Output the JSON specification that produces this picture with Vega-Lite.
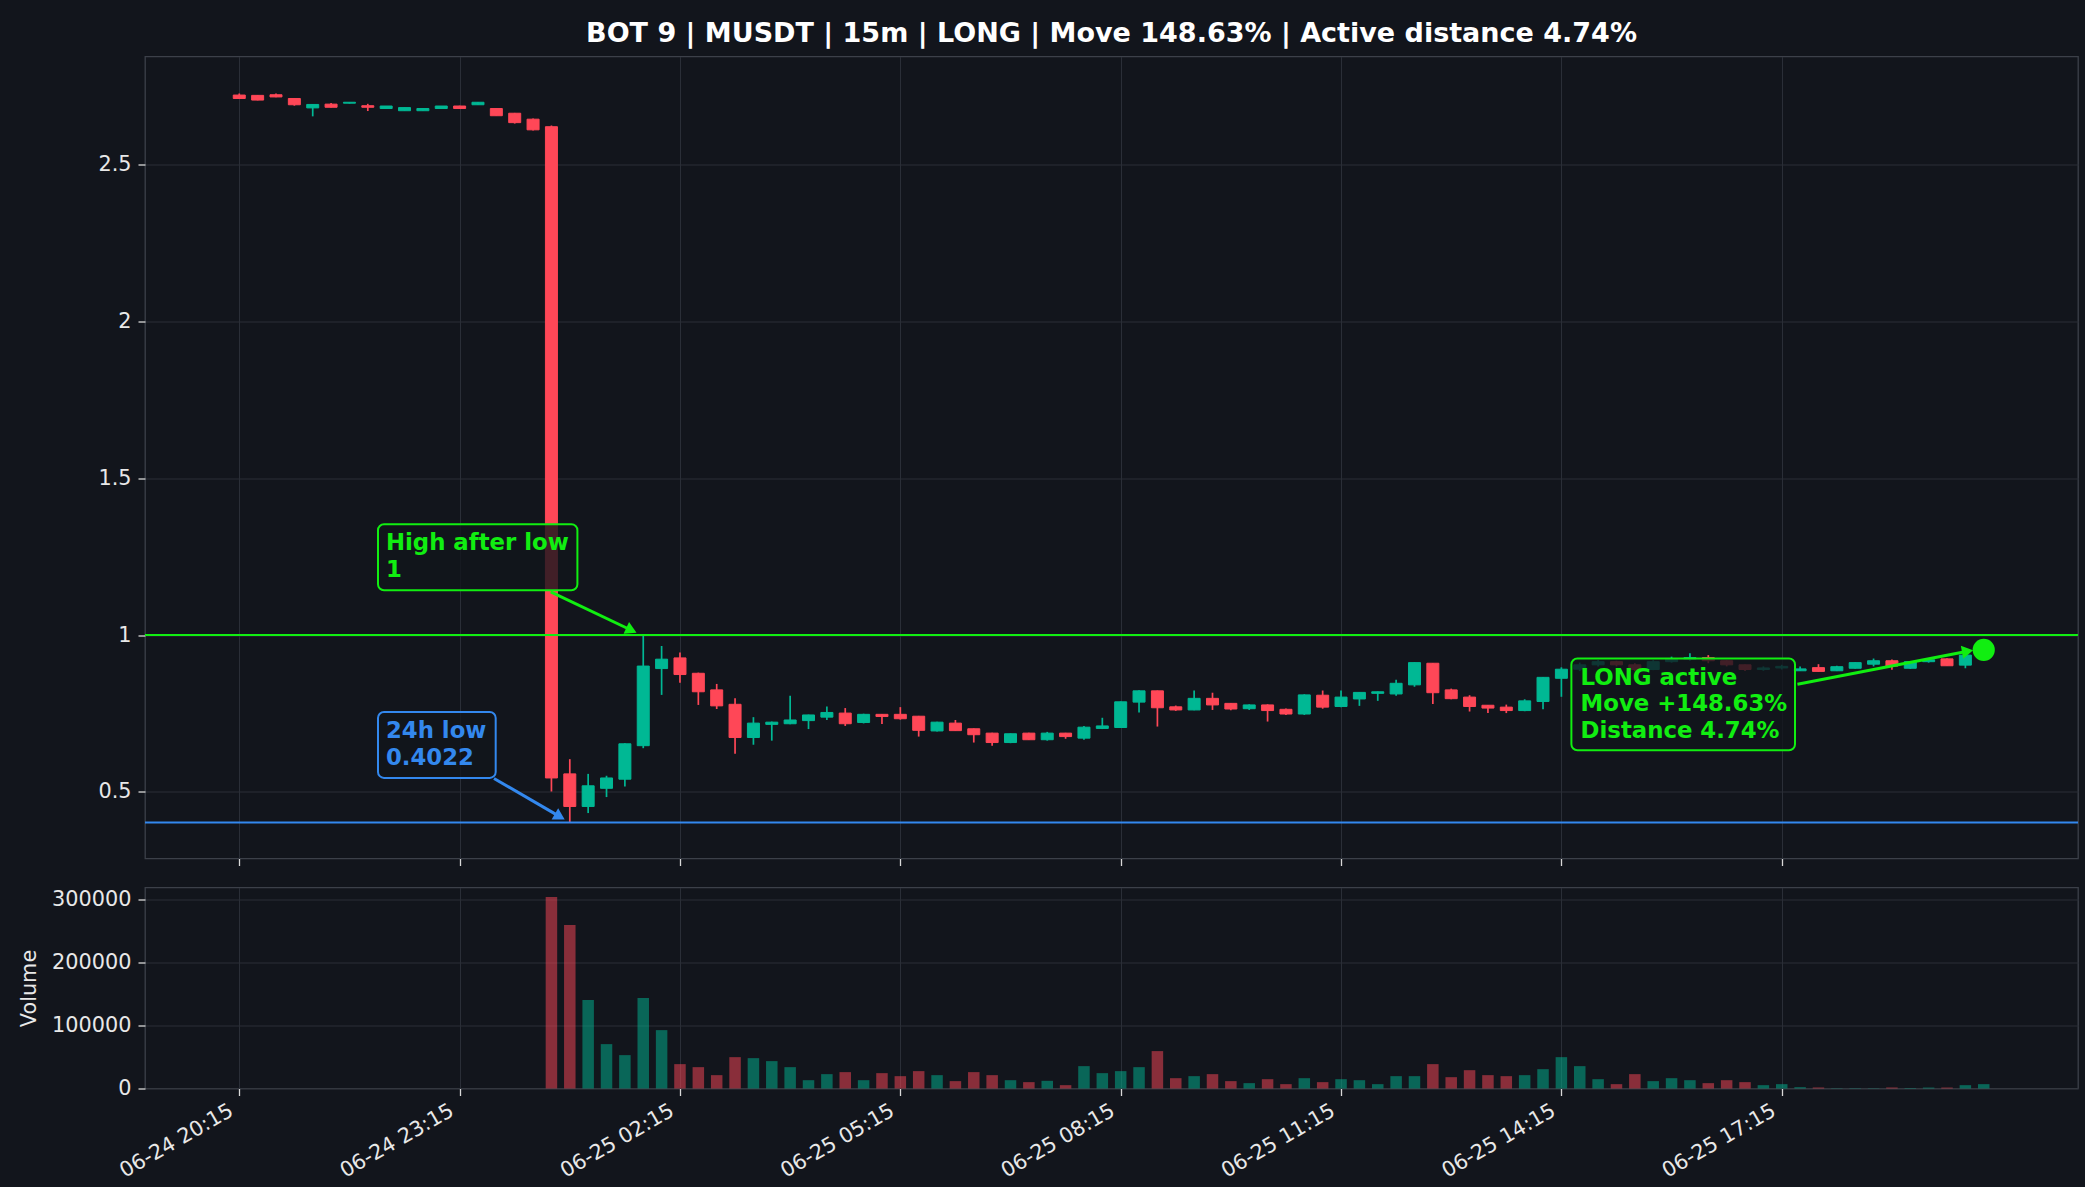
{
  "$schema": "https://vega.github.io/schema/vega-lite/v6.json",
  "background": "#12151c",
  "padding": {"left": 17, "top": 19.5, "right": 5, "bottom": 5},
  "spacing": 19,
  "datasets": {
    "candles": [
      {"t":"2025-06-24T20:15","o":2.723,"h":2.728,"l":2.711,"c":2.712,"v":0},
      {"t":"2025-06-24T20:30","o":2.722,"h":2.723,"l":2.706,"c":2.707,"v":0},
      {"t":"2025-06-24T20:45","o":2.724,"h":2.728,"l":2.716,"c":2.717,"v":0},
      {"t":"2025-06-24T21:00","o":2.712,"h":2.713,"l":2.689,"c":2.692,"v":0},
      {"t":"2025-06-24T21:15","o":2.682,"h":2.693,"l":2.655,"c":2.693,"v":0},
      {"t":"2025-06-24T21:30","o":2.694,"h":2.698,"l":2.683,"c":2.684,"v":0},
      {"t":"2025-06-24T21:45","o":2.697,"h":2.700,"l":2.696,"c":2.700,"v":0},
      {"t":"2025-06-24T22:00","o":2.689,"h":2.695,"l":2.672,"c":2.684,"v":0},
      {"t":"2025-06-24T22:15","o":2.680,"h":2.688,"l":2.680,"c":2.688,"v":0},
      {"t":"2025-06-24T22:30","o":2.673,"h":2.683,"l":2.673,"c":2.683,"v":0},
      {"t":"2025-06-24T22:45","o":2.673,"h":2.680,"l":2.673,"c":2.680,"v":0},
      {"t":"2025-06-24T23:00","o":2.680,"h":2.688,"l":2.680,"c":2.688,"v":0},
      {"t":"2025-06-24T23:15","o":2.688,"h":2.689,"l":2.680,"c":2.680,"v":0},
      {"t":"2025-06-24T23:30","o":2.692,"h":2.701,"l":2.692,"c":2.700,"v":0},
      {"t":"2025-06-24T23:45","o":2.680,"h":2.681,"l":2.657,"c":2.657,"v":0},
      {"t":"2025-06-25T00:00","o":2.665,"h":2.666,"l":2.632,"c":2.635,"v":0},
      {"t":"2025-06-25T00:15","o":2.646,"h":2.648,"l":2.610,"c":2.612,"v":0},
      {"t":"2025-06-25T00:30","o":2.622,"h":2.626,"l":0.501,"c":0.544,"v":304000},
      {"t":"2025-06-25T00:45","o":0.557,"h":0.604,"l":0.4022,"c":0.453,"v":259700},
      {"t":"2025-06-25T01:00","o":0.453,"h":0.557,"l":0.432,"c":0.519,"v":140400},
      {"t":"2025-06-25T01:15","o":0.511,"h":0.551,"l":0.483,"c":0.544,"v":70500},
      {"t":"2025-06-25T01:30","o":0.540,"h":0.655,"l":0.517,"c":0.653,"v":53000},
      {"t":"2025-06-25T01:45","o":0.647,"h":1.000,"l":0.639,"c":0.901,"v":143600},
      {"t":"2025-06-25T02:00","o":0.893,"h":0.965,"l":0.809,"c":0.923,"v":92700},
      {"t":"2025-06-25T02:15","o":0.927,"h":0.944,"l":0.848,"c":0.874,"v":38700},
      {"t":"2025-06-25T02:30","o":0.878,"h":0.880,"l":0.777,"c":0.819,"v":33900},
      {"t":"2025-06-25T02:45","o":0.825,"h":0.844,"l":0.764,"c":0.774,"v":21200},
      {"t":"2025-06-25T03:00","o":0.779,"h":0.798,"l":0.621,"c":0.673,"v":49800},
      {"t":"2025-06-25T03:15","o":0.673,"h":0.738,"l":0.650,"c":0.719,"v":48200},
      {"t":"2025-06-25T03:30","o":0.715,"h":0.724,"l":0.663,"c":0.722,"v":43500},
      {"t":"2025-06-25T03:45","o":0.717,"h":0.806,"l":0.715,"c":0.729,"v":33900},
      {"t":"2025-06-25T04:00","o":0.727,"h":0.746,"l":0.700,"c":0.745,"v":13200},
      {"t":"2025-06-25T04:15","o":0.738,"h":0.772,"l":0.729,"c":0.753,"v":22800},
      {"t":"2025-06-25T04:30","o":0.751,"h":0.767,"l":0.710,"c":0.717,"v":26000},
      {"t":"2025-06-25T04:45","o":0.721,"h":0.749,"l":0.718,"c":0.747,"v":13200},
      {"t":"2025-06-25T05:00","o":0.747,"h":0.748,"l":0.716,"c":0.740,"v":24400},
      {"t":"2025-06-25T05:15","o":0.747,"h":0.770,"l":0.730,"c":0.733,"v":19600},
      {"t":"2025-06-25T05:30","o":0.741,"h":0.742,"l":0.676,"c":0.696,"v":27600},
      {"t":"2025-06-25T05:45","o":0.694,"h":0.723,"l":0.692,"c":0.722,"v":21200},
      {"t":"2025-06-25T06:00","o":0.719,"h":0.729,"l":0.694,"c":0.695,"v":11700},
      {"t":"2025-06-25T06:15","o":0.701,"h":0.702,"l":0.657,"c":0.682,"v":26000},
      {"t":"2025-06-25T06:30","o":0.687,"h":0.688,"l":0.647,"c":0.657,"v":21200},
      {"t":"2025-06-25T06:45","o":0.657,"h":0.686,"l":0.655,"c":0.685,"v":13200},
      {"t":"2025-06-25T07:00","o":0.687,"h":0.688,"l":0.665,"c":0.666,"v":10100},
      {"t":"2025-06-25T07:15","o":0.666,"h":0.691,"l":0.663,"c":0.687,"v":12200},
      {"t":"2025-06-25T07:30","o":0.687,"h":0.688,"l":0.669,"c":0.676,"v":5300},
      {"t":"2025-06-25T07:45","o":0.671,"h":0.710,"l":0.666,"c":0.706,"v":35500},
      {"t":"2025-06-25T08:00","o":0.702,"h":0.736,"l":0.700,"c":0.710,"v":24400},
      {"t":"2025-06-25T08:15","o":0.705,"h":0.788,"l":0.704,"c":0.787,"v":27600},
      {"t":"2025-06-25T08:30","o":0.786,"h":0.824,"l":0.753,"c":0.822,"v":33900},
      {"t":"2025-06-25T08:45","o":0.822,"h":0.823,"l":0.708,"c":0.768,"v":59400},
      {"t":"2025-06-25T09:00","o":0.771,"h":0.775,"l":0.758,"c":0.761,"v":16400},
      {"t":"2025-06-25T09:15","o":0.761,"h":0.823,"l":0.760,"c":0.798,"v":19600},
      {"t":"2025-06-25T09:30","o":0.798,"h":0.816,"l":0.761,"c":0.777,"v":22800},
      {"t":"2025-06-25T09:45","o":0.782,"h":0.783,"l":0.760,"c":0.764,"v":11700},
      {"t":"2025-06-25T10:00","o":0.765,"h":0.779,"l":0.761,"c":0.777,"v":8500},
      {"t":"2025-06-25T10:15","o":0.777,"h":0.779,"l":0.724,"c":0.759,"v":14800},
      {"t":"2025-06-25T10:30","o":0.763,"h":0.766,"l":0.745,"c":0.748,"v":6900},
      {"t":"2025-06-25T10:45","o":0.748,"h":0.811,"l":0.745,"c":0.809,"v":16400},
      {"t":"2025-06-25T11:00","o":0.808,"h":0.823,"l":0.765,"c":0.770,"v":10100},
      {"t":"2025-06-25T11:15","o":0.772,"h":0.823,"l":0.770,"c":0.802,"v":14800},
      {"t":"2025-06-25T11:30","o":0.796,"h":0.818,"l":0.774,"c":0.817,"v":13200},
      {"t":"2025-06-25T11:45","o":0.814,"h":0.820,"l":0.790,"c":0.819,"v":6900},
      {"t":"2025-06-25T12:00","o":0.812,"h":0.857,"l":0.806,"c":0.846,"v":19600},
      {"t":"2025-06-25T12:15","o":0.841,"h":0.913,"l":0.835,"c":0.912,"v":19600},
      {"t":"2025-06-25T12:30","o":0.910,"h":0.911,"l":0.780,"c":0.816,"v":38700},
      {"t":"2025-06-25T12:45","o":0.825,"h":0.829,"l":0.795,"c":0.797,"v":18000},
      {"t":"2025-06-25T13:00","o":0.802,"h":0.808,"l":0.756,"c":0.772,"v":29100},
      {"t":"2025-06-25T13:15","o":0.776,"h":0.777,"l":0.751,"c":0.767,"v":21200},
      {"t":"2025-06-25T13:30","o":0.770,"h":0.778,"l":0.751,"c":0.759,"v":19600},
      {"t":"2025-06-25T13:45","o":0.759,"h":0.795,"l":0.757,"c":0.790,"v":21200},
      {"t":"2025-06-25T14:00","o":0.788,"h":0.866,"l":0.763,"c":0.865,"v":30700},
      {"t":"2025-06-25T14:15","o":0.862,"h":0.897,"l":0.803,"c":0.891,"v":49800},
      {"t":"2025-06-25T14:30","o":0.891,"h":0.912,"l":0.885,"c":0.905,"v":35500},
      {"t":"2025-06-25T14:45","o":0.905,"h":0.920,"l":0.900,"c":0.915,"v":14800},
      {"t":"2025-06-25T15:00","o":0.915,"h":0.918,"l":0.900,"c":0.905,"v":6900},
      {"t":"2025-06-25T15:15","o":0.905,"h":0.910,"l":0.885,"c":0.890,"v":22800},
      {"t":"2025-06-25T15:30","o":0.890,"h":0.920,"l":0.888,"c":0.915,"v":11700},
      {"t":"2025-06-25T15:45","o":0.915,"h":0.931,"l":0.912,"c":0.925,"v":16400},
      {"t":"2025-06-25T16:00","o":0.922,"h":0.942,"l":0.918,"c":0.928,"v":13200},
      {"t":"2025-06-25T16:15","o":0.928,"h":0.936,"l":0.910,"c":0.918,"v":8500},
      {"t":"2025-06-25T16:30","o":0.918,"h":0.920,"l":0.900,"c":0.905,"v":13200},
      {"t":"2025-06-25T16:45","o":0.905,"h":0.906,"l":0.885,"c":0.890,"v":10100},
      {"t":"2025-06-25T17:00","o":0.890,"h":0.900,"l":0.886,"c":0.895,"v":5300},
      {"t":"2025-06-25T17:15","o":0.895,"h":0.905,"l":0.890,"c":0.900,"v":6900},
      {"t":"2025-06-25T17:30","o":0.886,"h":0.900,"l":0.885,"c":0.892,"v":2100},
      {"t":"2025-06-25T17:45","o":0.896,"h":0.907,"l":0.883,"c":0.884,"v":1600},
      {"t":"2025-06-25T18:00","o":0.886,"h":0.902,"l":0.885,"c":0.899,"v":500},
      {"t":"2025-06-25T18:15","o":0.894,"h":0.913,"l":0.893,"c":0.912,"v":600},
      {"t":"2025-06-25T18:30","o":0.907,"h":0.925,"l":0.900,"c":0.918,"v":500},
      {"t":"2025-06-25T18:45","o":0.918,"h":0.922,"l":0.889,"c":0.901,"v":1600},
      {"t":"2025-06-25T19:00","o":0.894,"h":0.916,"l":0.892,"c":0.915,"v":800},
      {"t":"2025-06-25T19:15","o":0.915,"h":0.922,"l":0.912,"c":0.921,"v":1500},
      {"t":"2025-06-25T19:30","o":0.924,"h":0.926,"l":0.902,"c":0.902,"v":1500},
      {"t":"2025-06-25T19:45","o":0.904,"h":0.937,"l":0.894,"c":0.936,"v":5300},
      {"t":"2025-06-25T20:00","o":0.936,"h":0.955,"l":0.930,"c":0.9526,"v":6900}
    ],
    "boxes": [
      {"t1":"2025-06-24T22:08:20","t2":"2025-06-25T00:51:13","p1":1.143,"p2":1.3534,"kind":"green"},
      {"t1":"2025-06-24T22:08:20","t2":"2025-06-24T23:44:28","p1":0.5442,"p2":0.7547,"kind":"blue"},
      {"t1":"2025-06-25T14:23:10","t2":"2025-06-25T17:25:50","p1":0.6325,"p2":0.925,"kind":"green"}
    ],
    "labels": [
      {"t":"2025-06-24T22:14:50","p":1.2705,"label":"High after low","kind":"green"},
      {"t":"2025-06-24T22:14:50","p":1.1853,"label":"1","kind":"green"},
      {"t":"2025-06-24T22:14:50","p":0.6699,"label":"24h low","kind":"blue"},
      {"t":"2025-06-24T22:14:50","p":0.5847,"label":"0.4022","kind":"blue"},
      {"t":"2025-06-25T14:30:40","p":0.840,"label":"LONG active","kind":"green"},
      {"t":"2025-06-25T14:30:40","p":0.757,"label":"Move +148.63%","kind":"green"},
      {"t":"2025-06-25T14:30:40","p":0.673,"label":"Distance 4.74%","kind":"green"}
    ],
    "arrows": [
      {"t1":"2025-06-25T00:29:24","p1":1.1375,"t2":"2025-06-25T01:35:20","p2":1.0153,"kind":"green"},
      {"t1":"2025-06-24T23:43:06","p1":0.5423,"t2":"2025-06-25T00:36:50","p2":0.4207,"kind":"blue"},
      {"t1":"2025-06-25T17:27:50","p1":0.8431,"t2":"2025-06-25T19:46:48","p2":0.9483,"kind":"green"}
    ]
  },
  "vconcat": [
    {
      "width": 1933,
      "height": 802,
      "title": {"text": "BOT 9 | MUSDT | 15m | LONG | Move 148.63% | Active distance 4.74%", "fontSize": 27, "fontWeight": "bold", "font": "DejaVu Sans", "color": "#ffffff", "anchor": "middle", "frame": "group", "baseline": "alphabetic", "offset": -12.7},
      "layer": [
        {
          "data": {"name": "candles"},
          "mark": {"type": "rule", "strokeWidth": 1.7},
          "encoding": {
            "x": {"field": "t", "type": "temporal",
              "scale": {"domain": [{"year":2025,"month":6,"date":24,"hours":18,"minutes":58},{"year":2025,"month":6,"date":25,"hours":21,"minutes":17}], "padding": 0},
              "axis": {"values": [{"year":2025,"month":6,"date":24,"hours":20,"minutes":15},{"year":2025,"month":6,"date":24,"hours":23,"minutes":15},{"year":2025,"month":6,"date":25,"hours":2,"minutes":15},{"year":2025,"month":6,"date":25,"hours":5,"minutes":15},{"year":2025,"month":6,"date":25,"hours":8,"minutes":15},{"year":2025,"month":6,"date":25,"hours":11,"minutes":15},{"year":2025,"month":6,"date":25,"hours":14,"minutes":15},{"year":2025,"month":6,"date":25,"hours":17,"minutes":15}], "labels": false, "title": null}},
            "y": {"field": "l", "type": "quantitative", "scale": {"domain": [0.287, 2.846], "nice": false, "zero": false, "padding": 0},
              "axis": {"values": [0.5, 1, 1.5, 2, 2.5], "format": "~g", "title": null}},
            "y2": {"field": "h"},
            "color": {"condition": {"test": "datum.c >= datum.o", "value": "#00b894"}, "value": "#ff4757"}
          }
        },
        {
          "data": {"name": "candles"},
          "mark": {"type": "bar", "size": 12, "strokeWidth": 1},
          "encoding": {
            "x": {"field": "t", "type": "temporal",
              "scale": {"domain": [{"year":2025,"month":6,"date":24,"hours":18,"minutes":58},{"year":2025,"month":6,"date":25,"hours":21,"minutes":17}], "padding": 0},
              "axis": {"values": [{"year":2025,"month":6,"date":24,"hours":20,"minutes":15},{"year":2025,"month":6,"date":24,"hours":23,"minutes":15},{"year":2025,"month":6,"date":25,"hours":2,"minutes":15},{"year":2025,"month":6,"date":25,"hours":5,"minutes":15},{"year":2025,"month":6,"date":25,"hours":8,"minutes":15},{"year":2025,"month":6,"date":25,"hours":11,"minutes":15},{"year":2025,"month":6,"date":25,"hours":14,"minutes":15},{"year":2025,"month":6,"date":25,"hours":17,"minutes":15}], "labels": false, "title": null}},
            "y": {"field": "o", "type": "quantitative", "scale": {"domain": [0.287, 2.846], "nice": false, "zero": false, "padding": 0},
              "axis": {"values": [0.5, 1, 1.5, 2, 2.5], "format": "~g", "title": null}},
            "y2": {"field": "c"},
            "color": {"condition": {"test": "datum.c >= datum.o", "value": "#00b894"}, "value": "#ff4757"},
            "stroke": {"condition": {"test": "datum.c >= datum.o", "value": "#00b894"}, "value": "#ff4757"}
          }
        },
        {
          "data": {"values": [{"p": 1.0, "kind": "green"}, {"p": 0.4022, "kind": "blue"}]},
          "mark": {"type": "rule", "strokeWidth": 2},
          "encoding": {
            "y": {"field": "p", "type": "quantitative", "scale": {"domain": [0.287, 2.846], "nice": false, "zero": false, "padding": 0},
              "axis": {"values": [0.5, 1, 1.5, 2, 2.5], "format": "~g", "title": null}},
            "color": {"field": "kind", "type": "nominal", "scale": {"domain": ["green", "blue"], "range": ["#11ee11", "#3388ee"]}, "legend": null}
          }
        },
        {
          "data": {"name": "boxes"},
          "mark": {"type": "rect", "fill": "#12151c", "fillOpacity": 0.8, "strokeWidth": 2, "cornerRadius": 6},
          "encoding": {
            "x": {"field": "t1", "type": "temporal",
              "scale": {"domain": [{"year":2025,"month":6,"date":24,"hours":18,"minutes":58},{"year":2025,"month":6,"date":25,"hours":21,"minutes":17}], "padding": 0},
              "axis": {"values": [{"year":2025,"month":6,"date":24,"hours":20,"minutes":15},{"year":2025,"month":6,"date":24,"hours":23,"minutes":15},{"year":2025,"month":6,"date":25,"hours":2,"minutes":15},{"year":2025,"month":6,"date":25,"hours":5,"minutes":15},{"year":2025,"month":6,"date":25,"hours":8,"minutes":15},{"year":2025,"month":6,"date":25,"hours":11,"minutes":15},{"year":2025,"month":6,"date":25,"hours":14,"minutes":15},{"year":2025,"month":6,"date":25,"hours":17,"minutes":15}], "labels": false, "title": null}},
            "x2": {"field": "t2"},
            "y": {"field": "p1", "type": "quantitative", "scale": {"domain": [0.287, 2.846], "nice": false, "zero": false, "padding": 0},
              "axis": {"values": [0.5, 1, 1.5, 2, 2.5], "format": "~g", "title": null}},
            "y2": {"field": "p2"},
            "stroke": {"field": "kind", "type": "nominal", "scale": {"domain": ["green", "blue"], "range": ["#11ee11", "#3388ee"]}, "legend": null}
          }
        },
        {
          "data": {"name": "labels"},
          "mark": {"type": "text", "align": "left", "baseline": "alphabetic", "fontSize": 22.8, "fontWeight": "bold", "font": "DejaVu Sans"},
          "encoding": {
            "x": {"field": "t", "type": "temporal",
              "scale": {"domain": [{"year":2025,"month":6,"date":24,"hours":18,"minutes":58},{"year":2025,"month":6,"date":25,"hours":21,"minutes":17}], "padding": 0},
              "axis": {"values": [{"year":2025,"month":6,"date":24,"hours":20,"minutes":15},{"year":2025,"month":6,"date":24,"hours":23,"minutes":15},{"year":2025,"month":6,"date":25,"hours":2,"minutes":15},{"year":2025,"month":6,"date":25,"hours":5,"minutes":15},{"year":2025,"month":6,"date":25,"hours":8,"minutes":15},{"year":2025,"month":6,"date":25,"hours":11,"minutes":15},{"year":2025,"month":6,"date":25,"hours":14,"minutes":15},{"year":2025,"month":6,"date":25,"hours":17,"minutes":15}], "labels": false, "title": null}},
            "y": {"field": "p", "type": "quantitative", "scale": {"domain": [0.287, 2.846], "nice": false, "zero": false, "padding": 0},
              "axis": {"values": [0.5, 1, 1.5, 2, 2.5], "format": "~g", "title": null}},
            "text": {"field": "label"},
            "color": {"field": "kind", "type": "nominal", "scale": {"domain": ["green", "blue"], "range": ["#11ee11", "#3388ee"]}, "legend": null}
          }
        },
        {
          "data": {"name": "arrows"},
          "mark": {"type": "rule", "strokeWidth": 3},
          "encoding": {
            "x": {"field": "t1", "type": "temporal",
              "scale": {"domain": [{"year":2025,"month":6,"date":24,"hours":18,"minutes":58},{"year":2025,"month":6,"date":25,"hours":21,"minutes":17}], "padding": 0},
              "axis": {"values": [{"year":2025,"month":6,"date":24,"hours":20,"minutes":15},{"year":2025,"month":6,"date":24,"hours":23,"minutes":15},{"year":2025,"month":6,"date":25,"hours":2,"minutes":15},{"year":2025,"month":6,"date":25,"hours":5,"minutes":15},{"year":2025,"month":6,"date":25,"hours":8,"minutes":15},{"year":2025,"month":6,"date":25,"hours":11,"minutes":15},{"year":2025,"month":6,"date":25,"hours":14,"minutes":15},{"year":2025,"month":6,"date":25,"hours":17,"minutes":15}], "labels": false, "title": null}},
            "x2": {"field": "t2"},
            "y": {"field": "p1", "type": "quantitative", "scale": {"domain": [0.287, 2.846], "nice": false, "zero": false, "padding": 0},
              "axis": {"values": [0.5, 1, 1.5, 2, 2.5], "format": "~g", "title": null}},
            "y2": {"field": "p2"},
            "color": {"field": "kind", "type": "nominal", "scale": {"domain": ["green", "blue"], "range": ["#11ee11", "#3388ee"]}, "legend": null}
          }
        },
        {
          "data": {"values": [{"t": "2025-06-25T01:35:20", "p": 1.0153}]},
          "mark": {"type": "point", "shape": "triangle-right", "filled": true, "size": 170, "angle": 25, "color": "#11ee11", "opacity": 1},
          "encoding": {
            "x": {"field": "t", "type": "temporal",
              "scale": {"domain": [{"year":2025,"month":6,"date":24,"hours":18,"minutes":58},{"year":2025,"month":6,"date":25,"hours":21,"minutes":17}], "padding": 0},
              "axis": {"values": [{"year":2025,"month":6,"date":24,"hours":20,"minutes":15},{"year":2025,"month":6,"date":24,"hours":23,"minutes":15},{"year":2025,"month":6,"date":25,"hours":2,"minutes":15},{"year":2025,"month":6,"date":25,"hours":5,"minutes":15},{"year":2025,"month":6,"date":25,"hours":8,"minutes":15},{"year":2025,"month":6,"date":25,"hours":11,"minutes":15},{"year":2025,"month":6,"date":25,"hours":14,"minutes":15},{"year":2025,"month":6,"date":25,"hours":17,"minutes":15}], "labels": false, "title": null}},
            "y": {"field": "p", "type": "quantitative", "scale": {"domain": [0.287, 2.846], "nice": false, "zero": false, "padding": 0},
              "axis": {"values": [0.5, 1, 1.5, 2, 2.5], "format": "~g", "title": null}}
          }
        },
        {
          "data": {"values": [{"t": "2025-06-25T00:36:50", "p": 0.4207}]},
          "mark": {"type": "point", "shape": "triangle-right", "filled": true, "size": 170, "angle": 30, "color": "#3388ee", "opacity": 1},
          "encoding": {
            "x": {"field": "t", "type": "temporal",
              "scale": {"domain": [{"year":2025,"month":6,"date":24,"hours":18,"minutes":58},{"year":2025,"month":6,"date":25,"hours":21,"minutes":17}], "padding": 0},
              "axis": {"values": [{"year":2025,"month":6,"date":24,"hours":20,"minutes":15},{"year":2025,"month":6,"date":24,"hours":23,"minutes":15},{"year":2025,"month":6,"date":25,"hours":2,"minutes":15},{"year":2025,"month":6,"date":25,"hours":5,"minutes":15},{"year":2025,"month":6,"date":25,"hours":8,"minutes":15},{"year":2025,"month":6,"date":25,"hours":11,"minutes":15},{"year":2025,"month":6,"date":25,"hours":14,"minutes":15},{"year":2025,"month":6,"date":25,"hours":17,"minutes":15}], "labels": false, "title": null}},
            "y": {"field": "p", "type": "quantitative", "scale": {"domain": [0.287, 2.846], "nice": false, "zero": false, "padding": 0},
              "axis": {"values": [0.5, 1, 1.5, 2, 2.5], "format": "~g", "title": null}}
          }
        },
        {
          "data": {"values": [{"t": "2025-06-25T19:46:48", "p": 0.9483}]},
          "mark": {"type": "point", "shape": "triangle-right", "filled": true, "size": 170, "angle": -10.5, "color": "#11ee11", "opacity": 1},
          "encoding": {
            "x": {"field": "t", "type": "temporal",
              "scale": {"domain": [{"year":2025,"month":6,"date":24,"hours":18,"minutes":58},{"year":2025,"month":6,"date":25,"hours":21,"minutes":17}], "padding": 0},
              "axis": {"values": [{"year":2025,"month":6,"date":24,"hours":20,"minutes":15},{"year":2025,"month":6,"date":24,"hours":23,"minutes":15},{"year":2025,"month":6,"date":25,"hours":2,"minutes":15},{"year":2025,"month":6,"date":25,"hours":5,"minutes":15},{"year":2025,"month":6,"date":25,"hours":8,"minutes":15},{"year":2025,"month":6,"date":25,"hours":11,"minutes":15},{"year":2025,"month":6,"date":25,"hours":14,"minutes":15},{"year":2025,"month":6,"date":25,"hours":17,"minutes":15}], "labels": false, "title": null}},
            "y": {"field": "p", "type": "quantitative", "scale": {"domain": [0.287, 2.846], "nice": false, "zero": false, "padding": 0},
              "axis": {"values": [0.5, 1, 1.5, 2, 2.5], "format": "~g", "title": null}}
          }
        },
        {
          "data": {"values": [{"t": "2025-06-25T20:00", "p": 0.9526}]},
          "mark": {"type": "point", "shape": "circle", "filled": true, "size": 490, "color": "#11ee11", "opacity": 1},
          "encoding": {
            "x": {"field": "t", "type": "temporal",
              "scale": {"domain": [{"year":2025,"month":6,"date":24,"hours":18,"minutes":58},{"year":2025,"month":6,"date":25,"hours":21,"minutes":17}], "padding": 0},
              "axis": {"values": [{"year":2025,"month":6,"date":24,"hours":20,"minutes":15},{"year":2025,"month":6,"date":24,"hours":23,"minutes":15},{"year":2025,"month":6,"date":25,"hours":2,"minutes":15},{"year":2025,"month":6,"date":25,"hours":5,"minutes":15},{"year":2025,"month":6,"date":25,"hours":8,"minutes":15},{"year":2025,"month":6,"date":25,"hours":11,"minutes":15},{"year":2025,"month":6,"date":25,"hours":14,"minutes":15},{"year":2025,"month":6,"date":25,"hours":17,"minutes":15}], "labels": false, "title": null}},
            "y": {"field": "p", "type": "quantitative", "scale": {"domain": [0.287, 2.846], "nice": false, "zero": false, "padding": 0},
              "axis": {"values": [0.5, 1, 1.5, 2, 2.5], "format": "~g", "title": null}}
          }
        }
      ]
    },
    {
      "width": 1933,
      "height": 201,
      "data": {"name": "candles"},
      "mark": {"type": "bar", "size": 11.5, "opacity": 0.5},
      "encoding": {
        "x": {"field": "t", "type": "temporal",
          "scale": {"domain": [{"year":2025,"month":6,"date":24,"hours":18,"minutes":58},{"year":2025,"month":6,"date":25,"hours":21,"minutes":17}], "padding": 0},
          "axis": {"values": [{"year":2025,"month":6,"date":24,"hours":20,"minutes":15},{"year":2025,"month":6,"date":24,"hours":23,"minutes":15},{"year":2025,"month":6,"date":25,"hours":2,"minutes":15},{"year":2025,"month":6,"date":25,"hours":5,"minutes":15},{"year":2025,"month":6,"date":25,"hours":8,"minutes":15},{"year":2025,"month":6,"date":25,"hours":11,"minutes":15},{"year":2025,"month":6,"date":25,"hours":14,"minutes":15},{"year":2025,"month":6,"date":25,"hours":17,"minutes":15}],
            "format": "%m-%d %H:%M", "labelAngle": -30, "labelAlign": "right", "labelBaseline": "bottom", "labelPadding": 22, "labelOffset": -3, "title": null}},
        "y": {"field": "v", "type": "quantitative", "scale": {"domain": [0, 319200], "nice": false, "padding": 0},
          "axis": {"values": [0, 100000, 200000, 300000], "format": "d", "title": "Volume", "titlePadding": 12}},
        "color": {"condition": {"test": "datum.c >= datum.o", "value": "#00b894"}, "value": "#ff4757"}
      }
    }
  ],
  "config": {
    "font": "DejaVu Sans",
    "view": {"stroke": "#3c4049", "strokeWidth": 1.3, "fill": "#12151c"},
    "axis": {
      "domain": false,
      "grid": true,
      "gridColor": "#2a2e37",
      "gridWidth": 1,
      "labelColor": "#e8e8e8",
      "labelFont": "DejaVu Sans",
      "labelFontSize": 20.8,
      "labelPadding": 7,
      "labelFlush": false,
      "labelOverlap": false,
      "tickColor": "#d8d8d8",
      "tickSize": 7,
      "tickWidth": 1.3,
      "titleColor": "#e8e8e8",
      "titleFont": "DejaVu Sans",
      "titleFontSize": 20.8,
      "titleFontWeight": "normal"
    }
  }
}
